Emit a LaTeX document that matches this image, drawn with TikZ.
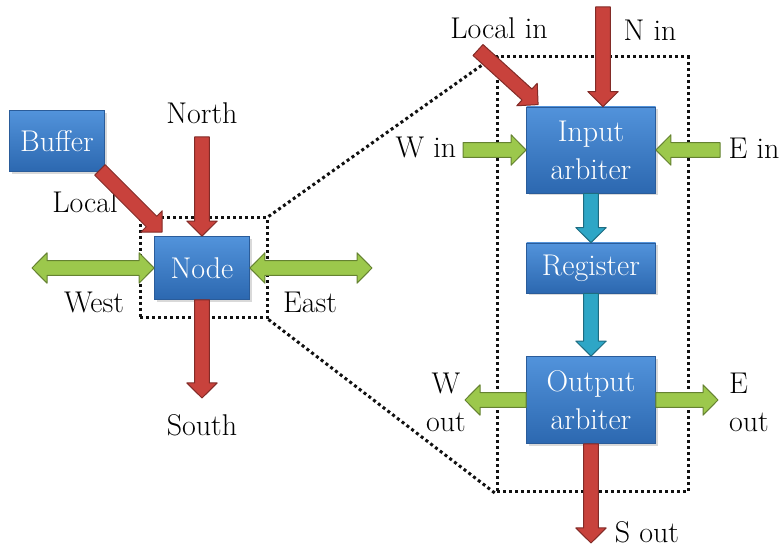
\documentclass[tikz,border=0pt]{standalone}
\usepackage{tikz}
\usetikzlibrary{positioning, calc, shadows}
\definecolor{boxtop}{HTML}{5293DB}
\definecolor{boxbot}{HTML}{2C68B0}
\definecolor{boxedge}{HTML}{2A5C9A}
\definecolor{redcol}{HTML}{C8423C}
\definecolor{greencol}{HTML}{9CC84C}
\definecolor{cyancol}{HTML}{2EA6C6}
\definecolor{dotcol}{HTML}{111111}

% block arrows drawn as polygons between two points
\newcommand{\arrhead}{7.5pt}
\newcommand{\arrshaft}{3.7pt}
\newcommand{\arrwide}{7.6pt}
\newcommand{\blockarrow}[3]{% colour, from, to
  \coordinate (hb) at ($(#3)!\arrhead!(#2)$);
  \path[arrowbody=#1]
    ($(#2)!\arrshaft!90:(#3)$) -- ($(hb)!\arrshaft!90:(#3)$) -- ($(hb)!\arrwide!90:(#3)$)
    -- (#3) -- ($(hb)!\arrwide!-90:(#3)$) -- ($(hb)!\arrshaft!-90:(#3)$)
    -- ($(#2)!\arrshaft!-90:(#3)$) -- cycle;}
\newcommand{\dblarrow}[3]{% colour, from, to
  \coordinate (hba) at ($(#2)!\arrhead!(#3)$);
  \coordinate (hbb) at ($(#3)!\arrhead!(#2)$);
  \path[arrowbody=#1]
    (#2) -- ($(hba)!\arrwide!90:(#3)$) -- ($(hba)!\arrshaft!90:(#3)$)
    -- ($(hbb)!\arrshaft!90:(#3)$) -- ($(hbb)!\arrwide!90:(#3)$) -- (#3)
    -- ($(hbb)!\arrwide!-90:(#3)$) -- ($(hbb)!\arrshaft!-90:(#3)$)
    -- ($(hba)!\arrshaft!-90:(#3)$) -- ($(hba)!\arrwide!-90:(#3)$) -- cycle;}

\begin{document}
\begin{tikzpicture}[
  x=0.5pt, y=-0.5pt,
  every node/.style={font=\fontsize{15}{19}\selectfont},
  blk/.style={rectangle, top color=boxtop, bottom color=boxbot, draw=boxedge,
              text=white, align=center, inner sep=0pt, minimum width=64.5pt,
              drop shadow={opacity=0.3, shadow xshift=1pt, shadow yshift=-1.2pt}},
  lbl/.style={align=center, inner sep=1pt},
  zoomframe/.style={draw=dotcol, line width=1.5pt, dash pattern=on 1.5pt off 1.5pt,
                    inner sep=0pt},
  zoomline/.style={draw=dotcol, line width=1.5pt, dash pattern=on 1.5pt off 1.5pt},
  arrowbody/.style={fill=#1, draw=#1!65!black, line width=0.5pt, line join=round},
]
  \useasboundingbox (0,0) rectangle (782,549);

  % left: one node of the network
  \node[blk, minimum width=47.5pt, minimum height=30.5pt] (buffer) at (57,141) {Buffer};
  \node[blk, minimum width=47.5pt, minimum height=31.5pt] (node) at (202,268) {Node};
  \node[zoomframe, minimum width=63.5pt, minimum height=50pt] (small) at (203.5,268) {};

  \node[lbl] (lnorth) at (202,113) {North};
  \node[lbl] (lsouth) at (202,425) {South};
  \node[lbl] (lwest) at (94,302) {West};
  \node[lbl] (least) at (310,302) {East};
  \node[lbl] (llocal) at (85,202) {Local};

  \coordinate (nstart) at (202,137);
  \coordinate (send) at (202,398);
  \coordinate (wend) at (32,268);
  \coordinate (eend) at (372,268);
  \coordinate (lstart) at ($(buffer.south east)+(-5,-2)$);
  \coordinate (ltip) at ($(node.north west)+(8,-4)$);

  \blockarrow{redcol}{nstart}{node.north}
  \blockarrow{redcol}{node.south}{send}
  \blockarrow{redcol}{lstart}{ltip}
  \dblarrow{greencol}{wend}{node.west}
  \dblarrow{greencol}{node.east}{eend}

  % right: inside the node
  \node[zoomframe, minimum width=95.5pt, minimum height=217.5pt] (big) at (592.5,274.5) {};
  \node[blk, minimum height=43pt] (inarb) at (591,150) {Input\\arbiter};
  \node[blk, minimum height=25pt] (reg) at (591,268) {Register};
  \node[blk, minimum height=43.5pt] (outarb) at (591,400) {Output\\arbiter};

  \draw[zoomline] (small.north east) -- (big.north west);
  \draw[zoomline] (small.south east) -- (big.south west);

  \node[lbl] (llocalin) at (499,28) {Local in};
  \node[lbl] (lnin) at (650,30) {N in};
  \node[lbl] (lwin) at (426,148) {W in};
  \node[lbl] (lein) at (754,148) {E in};
  \node[lbl] (lwout) at (446,402) {W\\out};
  \node[lbl, align=left] (leout) at (749,402) {E\\out};
  \node[lbl] (lsout) at (647,532) {S out};

  \coordinate (ninstart) at (603,7);
  \coordinate (localstart) at (478,50);
  \coordinate (winstart) at (463,150);
  \coordinate (einstart) at (720,150);
  \coordinate (woutend) at (465,400);
  \coordinate (eoutend) at (718,400);
  \coordinate (soutend) at (591,543);

  \blockarrow{redcol}{ninstart}{$(inarb.north)+(12,0)$}
  \blockarrow{redcol}{localstart}{$(inarb.north west)+(12,-2)$}
  \blockarrow{greencol}{winstart}{inarb.west}
  \blockarrow{greencol}{einstart}{inarb.east}
  \blockarrow{cyancol}{inarb.south}{reg.north}
  \blockarrow{cyancol}{reg.south}{outarb.north}
  \blockarrow{greencol}{outarb.west}{woutend}
  \blockarrow{greencol}{outarb.east}{eoutend}
  \blockarrow{redcol}{outarb.south}{soutend}
\end{tikzpicture}
\end{document}
